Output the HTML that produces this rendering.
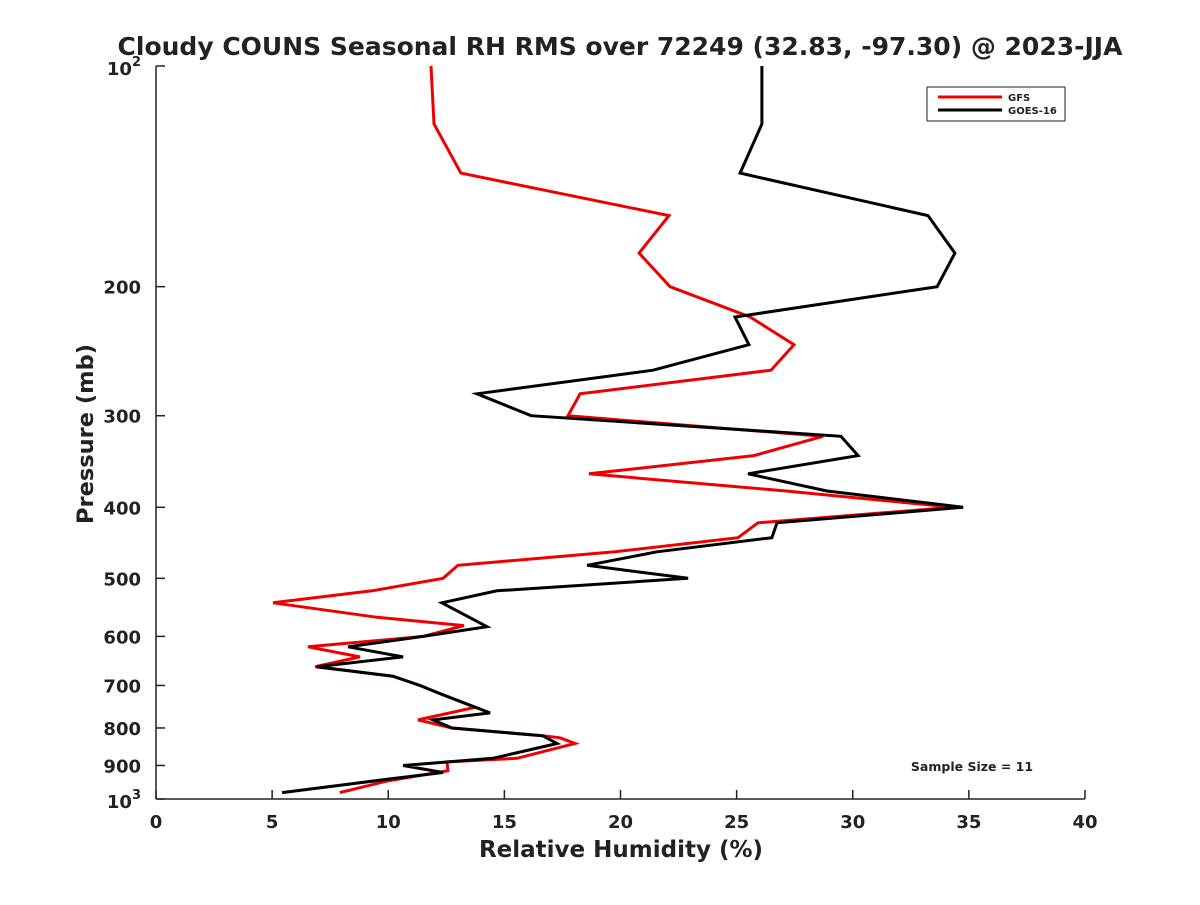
<!DOCTYPE html>
<html><head><meta charset="utf-8"><style>
body{margin:0;background:#fff}
svg text{font-family:"DejaVu Sans","Liberation Sans",sans-serif;font-weight:bold;fill:#222}
</style></head><body>
<svg width="1200" height="900" viewBox="0 0 1200 900">
<rect width="1200" height="900" fill="#fff"/>
<text x="620" y="55" font-size="25" text-anchor="middle" fill="#000">Cloudy COUNS Seasonal RH RMS over 72249 (32.83, -97.30) @ 2023-JJA</text>
<g id="axes"></g>
<g id="series"></g>
<g>
<rect x="927" y="87" width="138" height="34" fill="#fff" stroke="#222" stroke-width="1"/>
<line x1="938" y1="97" x2="1002" y2="97" stroke="#e00" stroke-width="3"/>
<text x="1008" y="101" font-size="10">GFS</text>
<line x1="938" y1="110" x2="1002" y2="110" stroke="#000" stroke-width="3"/>
<text x="1008" y="114" font-size="10">GOES-16</text>
</g>
<text x="972" y="771" font-size="12.5" text-anchor="middle">Sample Size = 11</text>
<text x="621" y="857" font-size="23" text-anchor="middle">Relative Humidity (%)</text>
<text transform="translate(93,434) rotate(-90)" font-size="22.5" text-anchor="middle">Pressure (mb)</text>
</svg>
<script>
const xTicks=[0,5,10,15,20,25,30,35,40];
const yTicks=[100,200,300,400,500,600,700,800,900,1000];
const yTickLabels=["","200","300","400","500","600","700","800","900",""];
const gfsP=[100,120,140,160,180,200,220,240,260,280,300,320,340,360,380,400,420,440,460,480,500,520,540,565,580,600,620,640,660,680,700,720,750,780,800,820,825,840,880,890,915,945,980];
const gfsRH=[11.84,11.97,13.13,22.09,20.80,22.13,25.58,27.47,26.48,18.26,17.74,28.72,25.75,18.64,27.13,34.32,25.92,25.06,19.76,13.00,12.36,9.30,5.04,9.52,13.26,11.50,6.54,8.78,6.85,10.20,11.37,12.31,13.74,11.28,12.74,16.66,17.40,18.04,15.54,12.53,12.57,9.95,7.92];
const goesP=[100,120,140,160,180,200,220,240,260,280,300,320,340,360,380,400,420,440,460,480,500,520,540,582,600,620,640,660,680,700,720,763,780,800,820,840,880,900,920,940,980];
const goesRH=[26.09,26.09,25.15,33.24,34.40,33.63,24.93,25.53,21.40,13.82,16.15,29.49,30.23,25.49,28.89,34.75,26.74,26.52,21.57,18.56,22.91,14.68,12.31,14.25,11.50,8.27,10.64,6.93,10.20,11.37,12.31,14.38,11.93,12.74,16.66,17.27,14.51,10.64,12.36,9.95,5.43];
const X0=156,X1=1085,Y0=66,Y1=799;
const xs=v=>X0+(v-0)/(40-0)*(X1-X0);
const ys=p=>Y0+(Math.log10(p)-2)*(Y1-Y0);
const NS="http://www.w3.org/2000/svg";
function mk(tag,attrs,parent,txt){const e=document.createElementNS(NS,tag);for(const k in attrs)e.setAttribute(k,attrs[k]);if(txt!==undefined)e.textContent=txt;parent.appendChild(e);return e;}
const ax=document.getElementById('axes');
let l=mk('line',{x1:X0,y1:Y1,x2:X1,y2:Y1,stroke:'#222','stroke-width':1.5},ax);


l=mk('line',{x1:X0,y1:Y0,x2:X0,y2:Y1,stroke:'#222','stroke-width':1.5},ax);


xTicks.forEach(v=>{const x=xs(v);
 const t=mk('line',{x1:x,y1:Y1,x2:x,y2:Y1-9,stroke:'#222','stroke-width':1.5},ax);
 
 
 const tx=mk('text',{x:x,y:Y1+29,'font-size':18,'text-anchor':'middle'},ax,String(v));
 
 
});
yTicks.forEach((p,i)=>{const y=ys(p);
 const t=mk('line',{x1:X0,y1:y,x2:X0+9,y2:y,stroke:'#222','stroke-width':1.5},ax);
 
 
 if(yTickLabels[i]){const tx=mk('text',{x:X0-15,y:y+7,'font-size':18,'text-anchor':'end'},ax,yTickLabels[i]);
 
 }
});
[[100,"2"],[1000,"3"]].forEach(([p,e])=>{const y=ys(p);
 const tx=mk('text',{x:X0-15,y:y+9,'font-size':18,'text-anchor':'end'},ax);
 
 
 mk('tspan',{},tx,'10');mk('tspan',{dy:-9,'font-size':13},tx,e);
});
const sg=document.getElementById('series');
function line(P,V,color,name){
 const pts=P.map((p,i)=>xs(V[i]).toFixed(1)+','+ys(p).toFixed(1)).join(' ');
 const pl=mk('polyline',{points:pts,fill:'none',stroke:color,'stroke-width':3,'stroke-linejoin':'miter'},sg);
 
 
}
line(gfsP,gfsRH,'#e00','gfs-line');
line(goesP,goesRH,'#000','goes16-line');
</script>
</body></html>
